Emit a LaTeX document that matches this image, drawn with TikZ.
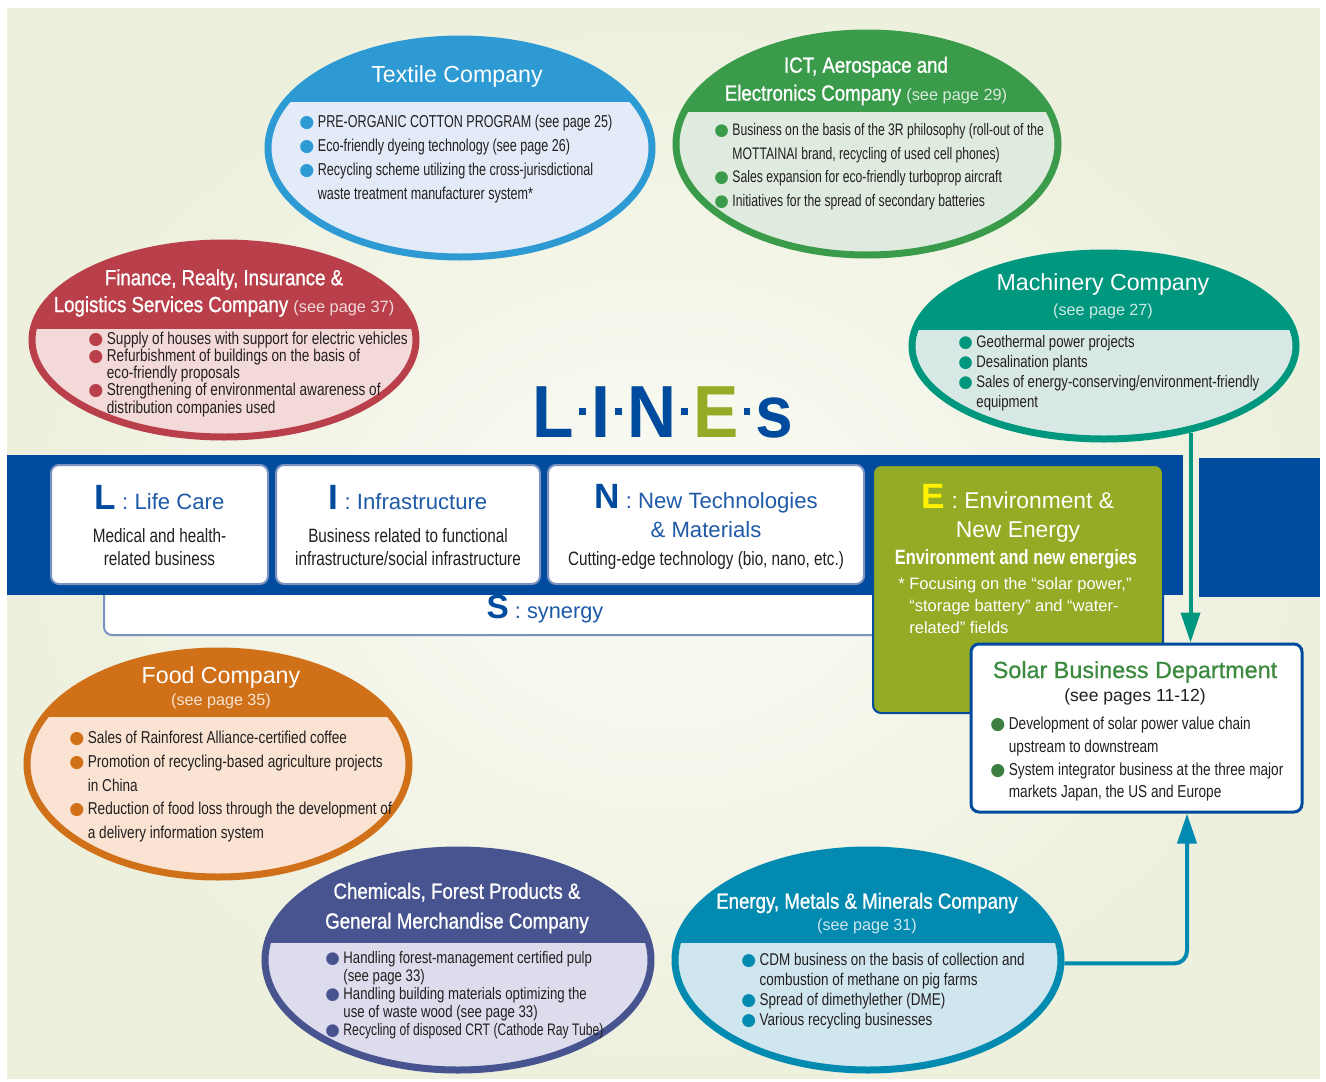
\documentclass[tikz,border=0pt]{standalone}
\usepackage{fontspec}
\setmainfont{Liberation Sans}
\newfontfamily\narrowfont[FakeStretch=0.73]{Liberation Sans}
\newfontfamily\condfont[FakeStretch=0.79]{Liberation Sans}
\newfontfamily\headfont[FakeStretch=0.85,FakeBold=1]{Liberation Sans}
\newfontfamily\midfont[FakeBold=0.8]{Liberation Sans}
\newfontfamily\linesfont[FakeStretch=0.92]{Liberation Sans}
\newfontfamily\symfont{DejaVu Sans}
\usetikzlibrary{shapes.geometric,arrows.meta,positioning}

\definecolor{bgcream}{HTML}{EDF0DD}
\definecolor{bglight}{HTML}{FBFBF5}
\definecolor{lineblue}{HTML}{004B9D}
\definecolor{lifeblue}{HTML}{1E5AA8}
\definecolor{panelrim}{HTML}{7C93C2}
\definecolor{olive}{HTML}{93AB25}
\definecolor{eyellow}{HTML}{FFF100}
\definecolor{txtdark}{HTML}{231F20}
\definecolor{solargreen}{HTML}{3C8A3F}
\definecolor{solardot}{HTML}{3D7F40}
\definecolor{texdk}{HTML}{2E9AD3}  \definecolor{texlt}{HTML}{E2EBF7}
\definecolor{ictdk}{HTML}{3A9B4B}  \definecolor{ictlt}{HTML}{E0EBDF}
\definecolor{findk}{HTML}{B9404A}  \definecolor{finlt}{HTML}{F3DAD8}
\definecolor{macdk}{HTML}{00977F}  \definecolor{maclt}{HTML}{D8E9E5}
\definecolor{fooddk}{HTML}{D07119} \definecolor{foodlt}{HTML}{FAE3D2}
\definecolor{chemdk}{HTML}{48548F} \definecolor{chemlt}{HTML}{DCDCEC}
\definecolor{enedk}{HTML}{028AB0}  \definecolor{enelt}{HTML}{D0E6EE}

\newcommand{\bul}[1]{{\symfont\textcolor{#1}{●}}\kern2pt}
\newcommand{\cont}{\hphantom{{\symfont ●}\kern2pt}}
\newcommand{\sepdot}{\kern0.07em\rule[0.3em]{0.09em}{0.09em}\kern0.07em}

\tikzset{
  ring/.style={ellipse, line width=0.14cm, inner sep=0pt},
  headline/.style={text=white, align=center, inner sep=0pt},
  seepage/.style={text=white, text opacity=0.8, inner sep=0pt,
    font=\fontsize{9.2}{11}\selectfont},
  bullets/.style={anchor=north west, align=left, inner sep=0pt, text=txtdark},
  panel/.style={rectangle, rounded corners=0.16cm, fill=white,
    draw=panelrim, line width=0.04cm},
  boxtext/.style={align=center, inner sep=0pt, text=txtdark,
    font=\condfont\fontsize{11}{13}\selectfont},
  flowarrow/.style={line width=0.08cm, -{Triangle[width=0.38cm,length=0.6cm]}},
}

\begin{document}
\begin{tikzpicture}[x=0.02cm,y=-0.02cm]
  \useasboundingbox (0,0) rectangle (1326,1082);
  \fill[white] (0,0) rectangle (1326,1082);
  \shade[inner color=bglight, outer color=bgcream] (7,8) rectangle (1320,1078);

  % company ellipses: light body, dark header band, ring
  \foreach \nm/\cx/\cy/\rx/\ry/\cut/\hue/\tint in {%
      textile/460/148/192/109/102/texdk/texlt,
      ict/867/144/191/111/112/ictdk/ictlt,
      finance/224/340/192/97/329/findk/finlt,
      machinery/1104/346/192/93/330/macdk/maclt,
      chemicals/458/960/193/110/943/chemdk/chemlt,
      food/218/764/191/113/717/fooddk/foodlt,
      energy/868/960/193/110/943/enedk/enelt}{
    \begin{scope}
      \clip (\cx,\cy) ellipse [x radius=\rx, y radius=\ry];
      \fill[\tint] (\cx-\rx,\cy-\ry) rectangle (\cx+\rx,\cy+\ry);
      \fill[\hue] (\cx-\rx,\cy-\ry) rectangle (\cx+\rx,\cut);
    \end{scope}
    \node[ring, draw=\hue, minimum width=2*\rx*0.02cm,
          minimum height=2*\ry*0.02cm] (\nm) at (\cx,\cy) {};
  }

  % headers of the ellipses
  \node[headline, font=\fontsize{13.2}{16}\selectfont] (textilehead) at (457,77) {Textile Company};
  \node[headline, font=\headfont\fontsize{12.5}{15.9}\selectfont] (icthead) at (866,81)
    {ICT, Aerospace and\\Electronics Company {\normalfont\fontsize{9.3}{15.9}\selectfont\color{white!80!ictdk}(see page 29)}};
  \node[headline, font=\headfont\fontsize{12.5}{15.3}\selectfont] (financehead) at (224,293)
    {Finance, Realty, Insurance \&\\Logistics Services Company {\normalfont\fontsize{9.3}{15.3}\selectfont\color{white!80!findk}(see page 37)}};
  \node[headline, font=\fontsize{13.2}{16}\selectfont] (machinehead) at (1103,284) {Machinery Company};
  \node[seepage] (machinepage) at (1103,311) {(see page 27)};
  \node[headline, font=\fontsize{13.2}{16}\selectfont] (foodhead) at (221,677) {Food Company};
  \node[seepage] (foodpage) at (221,701) {(see page 35)};
  \node[headline, font=\headfont\fontsize{12.5}{17}\selectfont] (chemhead) at (457,908)
    {Chemicals, Forest Products \&\\General Merchandise Company};
  \node[headline, font=\headfont\fontsize{12.5}{15}\selectfont] (energyhead) at (867,903)
    {Energy, Metals \& Minerals Company};
  \node[seepage] (energypage) at (867,926) {(see page 31)};

  % bullet lists
  \node[bullets, font=\narrowfont\fontsize{9.8}{13.6}\selectfont] (textilelist) at (299,115)
    {\bul{texdk}PRE-ORGANIC COTTON PROGRAM (see page 25)\\
     \bul{texdk}Eco-friendly dyeing technology (see page 26)\\
     \bul{texdk}Recycling scheme utilizing the cross-jurisdictional\\
     \cont waste treatment manufacturer system*};
  \node[bullets, font=\narrowfont\fontsize{9.5}{13.5}\selectfont] (ictlist) at (714,123)
    {\bul{ictdk}Business on the basis of the 3R philosophy (roll-out of the\\
     \cont MOTTAINAI brand, recycling of used cell phones)\\
     \bul{ictdk}Sales expansion for eco-friendly turboprop aircraft\\
     \bul{ictdk}Initiatives for the spread of secondary batteries};
  \node[bullets, font=\condfont\fontsize{9.8}{9.7}\selectfont] (financelist) at (88,332)
    {\bul{findk}Supply of houses with support for electric vehicles\\
     \bul{findk}Refurbishment of buildings on the basis of\\
     \cont eco-friendly proposals\\
     \bul{findk}Strengthening of environmental awareness of\\
     \cont distribution companies used};
  \node[bullets, font=\condfont\fontsize{9.5}{11.3}\selectfont] (machinelist) at (958,335)
    {\bul{macdk}Geothermal power projects\\
     \bul{macdk}Desalination plants\\
     \bul{macdk}Sales of energy-conserving/environment-friendly\\
     \cont equipment};
  \node[bullets, font=\condfont\fontsize{9.8}{13.5}\selectfont] (foodlist) at (69,731)
    {\bul{fooddk}Sales of Rainforest Alliance-certified coffee\\
     \bul{fooddk}Promotion of recycling-based agriculture projects\\
     \cont in China\\
     \bul{fooddk}Reduction of food loss through the development of\\
     \cont a delivery information system};
  \node[bullets, font=\condfont\fontsize{9.5}{10.2}\selectfont] (chemlist) at (325,951)
    {\bul{chemdk}Handling forest-management certified pulp\\
     \cont (see page 33)\\
     \bul{chemdk}Handling building materials optimizing the\\
     \cont use of waste wood (see page 33)\\
     \bul{chemdk}{\narrowfont Recycling of disposed CRT (Cathode Ray Tube)}};
  \node[bullets, font=\condfont\fontsize{9.7}{11.3}\selectfont] (energylist) at (741,953)
    {\bul{enedk}CDM business on the basis of collection and\\
     \cont combustion of methane on pig farms\\
     \bul{enedk}Spread of dimethylether (DME)\\
     \bul{enedk}Various recycling businesses};

  % L-I-N-E-s band
  \node[panel, minimum width=781*0.02cm, minimum height=75*0.02cm] (sbox) at (494.5,597.5) {};
  \fill[lineblue] (7,455) rectangle (1183,595);
  \fill[lineblue] (1199,458) rectangle (1320,597);
  \node[panel, minimum width=217*0.02cm, minimum height=119*0.02cm] (lbox) at (159.5,524.5) {};
  \node[panel, minimum width=264*0.02cm, minimum height=119*0.02cm] (ibox) at (408,524.5) {};
  \node[panel, minimum width=316*0.02cm, minimum height=119*0.02cm] (nbox) at (706,524.5) {};
  \node[panel, fill=olive, draw=lineblue, minimum width=290*0.02cm,
        minimum height=248*0.02cm] (ebox) at (1018,589) {};

  \node[font=\linesfont\bfseries\fontsize{42}{44}\selectfont, text=lineblue, inner sep=0pt] (lines)
    at (663,412) {L\sepdot I\sepdot N\sepdot\textcolor{olive}{E}\sepdot s};

  \node[anchor=base, inner sep=0pt, text=lifeblue, font=\fontsize{12.6}{15}\selectfont] (lhead) at (159.5,509)
    {{\bfseries\color{lineblue}\fontsize{20}{22}\selectfont L} : Life Care};
  \node[boxtext, anchor=north] (ldesc) at (159.5,528) {Medical and health-\\related business};
  \node[anchor=base, inner sep=0pt, text=lifeblue, font=\fontsize{12.6}{15}\selectfont] (ihead) at (408,509)
    {{\bfseries\color{lineblue}\fontsize{20}{22}\selectfont I} : Infrastructure};
  \node[boxtext, anchor=north] (idesc) at (408,528) {Business related to functional\\infrastructure/social infrastructure};
  \node[anchor=north, align=center, inner sep=0pt, text=lifeblue, font=\fontsize{12.6}{16.4}\selectfont] (nhead) at (706,484)
    {{\bfseries\color{lineblue}\fontsize{20}{22}\selectfont N} : New Technologies\\\& Materials};
  \node[boxtext, anchor=base] (ndesc) at (706,565) {Cutting-edge technology (bio, nano, etc.)};
  \node[anchor=north, align=center, inner sep=0pt, text=white, font=\fontsize{13}{16.4}\selectfont] (ehead) at (1018,484)
    {{\bfseries\color{eyellow}\fontsize{20}{22}\selectfont E} : Environment \&\\New Energy};
  \node[anchor=base, inner sep=0pt, text=white, font=\condfont\bfseries\fontsize{11.8}{14}\selectfont] (esub) at (1016,564)
    {Environment and new energies};
  \node[anchor=north west, align=left, inner sep=0pt, text=white, font=\fontsize{9.4}{12.5}\selectfont] (enote) at (898,577)
    {* Focusing on the “solar power,”\\
     \hphantom{* }“storage battery” and “water-\\
     \hphantom{* }related” fields};
  \node[anchor=base, inner sep=0pt, text=lifeblue, font=\fontsize{12.4}{15}\selectfont] (shead) at (545,618)
    {{\bfseries\color{lineblue}\fontsize{19}{22}\selectfont S} : synergy};

  % solar business department
  \node[panel, draw=lineblue, line width=0.06cm, minimum width=331*0.02cm,
        minimum height=168*0.02cm] (solar) at (1136.5,728) {};
  \node[inner sep=0pt, text=solargreen, font=\midfont\fontsize{13.3}{16}\selectfont] (solarhead) at (1135,672)
    {Solar Business Department};
  \node[inner sep=0pt, text=txtdark, font=\fontsize{10}{12}\selectfont] (solarpage) at (1135,697)
    {(see pages 11-12)};
  \node[bullets, font=\condfont\fontsize{9.8}{12.9}\selectfont] (solarlist) at (990,717)
    {\bul{solardot}Development of solar power value chain\\
     \cont upstream to downstream\\
     \bul{solardot}System integrator business at the three major\\
     \cont markets Japan, the US and Europe};

  % arrows into the solar department
  \draw[flowarrow, macdk] (machinery.-45) -- (machinery.-45 |- solar.north);
  \draw[flowarrow, enedk, rounded corners=0.25cm] (energy.-1.5) -| ([xshift=1.01cm]solar.south);
\end{tikzpicture}
\end{document}
